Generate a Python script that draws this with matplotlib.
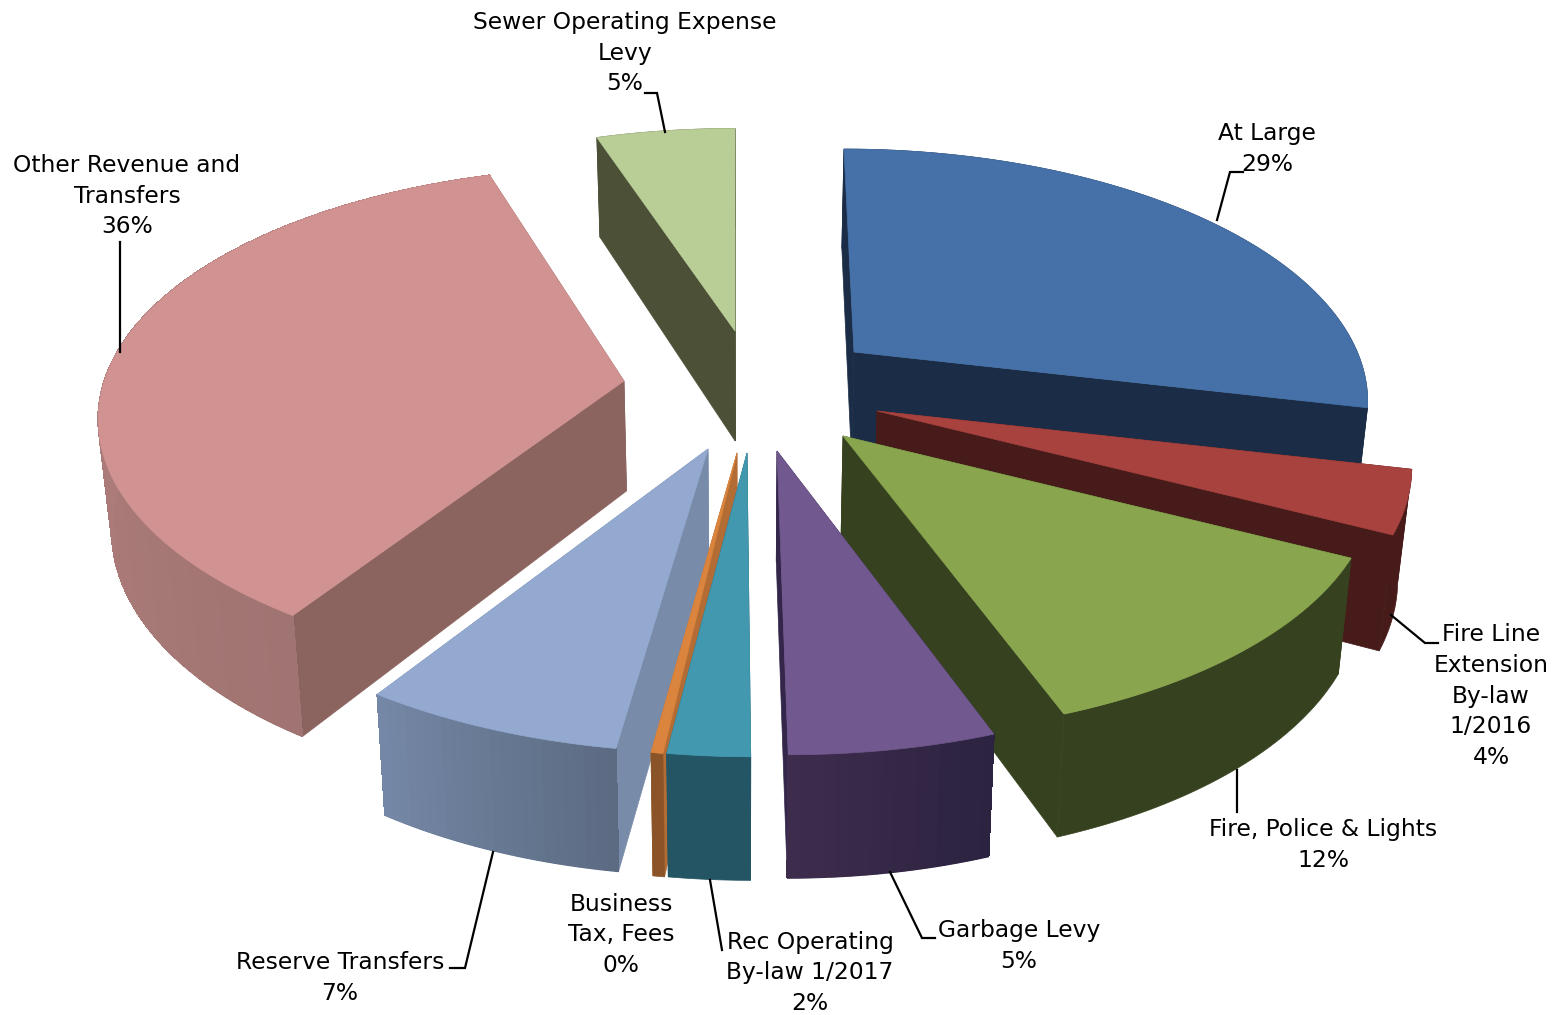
import numpy as np
import matplotlib
matplotlib.use("Agg")
import matplotlib.pyplot as plt
from matplotlib.patches import Polygon
from matplotlib.colors import to_rgb

# ---- data ----
categories = ["At Large", "Fire Line\nExtension\nBy-law\n1/2016", "Fire, Police & Lights", "Garbage Levy",
              "Rec Operating\nBy-law 1/2017", "Business\nTax, Fees", "Reserve Transfers",
              "Other Revenue and\nTransfers", "Sewer Operating Expense\nLevy"]
shares = [28.6, 3.9, 12.2, 5.3, 2.1, 0.3, 7.0, 35.4, 5.2]
percent_labels = ["29%", "4%", "12%", "5%", "2%", "0%", "7%", "36%", "5%"]

# ---- style ----
top_colors = ["#4571A8", "#A8423F", "#89A54E", "#71588F", "#4198AF", "#DB843D", "#93A9CF", "#D19392", "#B9CD96"]
radial_colors = ["#1B2D46", "#461B19", "#36421F", "#33264A", "#235564", "#B26C34", "#788CAA", "#8C645F", "#4B5037"]
wall_start = ["#1B2D46", "#461B19", "#36421F", "#2B2340", "#235564", "#8A5428", "#5C6B82", "#A07472", "#4B5037"]
wall_end = ["#1B2D46", "#461B19", "#36421F", "#3E2C4C", "#235564", "#8A5428", "#7487A6", "#BE8785", "#4B5037"]

# ---- layout: pie centre, slice offsets on screen, projection per slice ----
cx, cy = 742, 445
explode_dx = [112, 135, 101, 35, 5, -5, -34, -118, -7]
explode_dy = [-93, -34, -9, 6, 8, 8, 4, -64, -114]
skew = [-12, -6, -6, -9, -3, -8, -3, 0, 0]
radius = [0.983, 1.02, 1.02, 1.0, 1.0, 1.0, 1.0, 1.015, 1.0]
persp = [0.18, 0.2, 0.17, 0.2, 0.2, 0.2, 0.2, 0.15, 0.2]
trim_end_deg = [0, 0, 1.0, 0, 0, 0, 1.0, -1.5, 0]
S, Se = 512, 243
height0, height_q, taper = 110, 0.11, 0.021

label_pos = [(1267, 149), (1491, 696), (1323, 845), (1019, 946), (810, 973), (621, 935), (340, 978), (127, 196), (625, 53)]
leaders = [[(1217, 220), (1230, 172), (1243, 172)],
           [(1391, 615), (1425, 643), (1438, 643)],
           [(1237, 770), (1237, 812)],
           [(890, 872), (922, 938), (935, 938)],
           [(710, 880), (722, 950)],
           None,
           [(493, 852), (465, 968), (450, 968)],
           [(120, 352), (120, 242)],
           [(665, 132), (657, 93), (645, 93)]]

fig = plt.figure(figsize=(15.56, 10.15), dpi=100)
ax = fig.add_axes([0, 0, 1, 1])
ax.set_xlim(0, 1556)
ax.set_ylim(1015, 0)
ax.axis("off")


def proj(theta, i, ax0, ay0):
    x = radius[i] * np.sin(theta)
    y = radius[i] * np.cos(theta)
    w = 1 + persp[i] * y
    sx = ax0 + (S * x + skew[i] * y) / w
    sy = ay0 - Se * y / w
    return sx, sy, y


def lower(sx, sy, y):
    h = height0 / (1 + height_q * y)
    return sx - taper * (sx - cx), sy + h


def draw_wall(k0, k1, xs, ys, bx, by, c0, c1):
    """Outer wall between samples k0..k1: smooth base polygon plus gradient bands."""
    if k1 <= k0:
        return
    n = len(xs) - 1
    X, Y, BX, BY = xs[k0:k1 + 1], ys[k0:k1 + 1], bx[k0:k1 + 1], by[k0:k1 + 1]
    t0, t1 = k0 / n, k1 / n
    base_col = c0 * (1 - (t0 + t1) / 2) + c1 * (t0 + t1) / 2
    base = np.column_stack([np.r_[X, BX[::-1]], np.r_[Y, BY[::-1]]])
    ax.add_patch(Polygon(base, closed=True, facecolor=base_col, edgecolor=base_col, lw=0.5))
    if np.allclose(c0, c1):
        return
    for k in range(k0, k1):
        t = k / max(n - 1, 1)
        col = c0 * (1 - t) + c1 * t
        q = [(xs[k], ys[k]), (xs[k + 1], ys[k + 1]), (bx[k + 1], by[k + 1] - 1), (bx[k], by[k] - 1)]
        ax.add_patch(Polygon(q, closed=True, facecolor=col, edgecolor=col, lw=0.6, antialiased=False))


total = sum(shares)
bounds = np.cumsum([0] + shares) / total * 2 * np.pi
order = [8, 7, 0, 1, 2, 6, 5, 4, 3]

for i in order:
    a0, a1 = bounds[i], bounds[i + 1] - np.radians(trim_end_deg[i])
    ax0, ay0 = cx + explode_dx[i], cy + explode_dy[i]
    th = np.linspace(a0, a1, max(int((a1 - a0) * 60), 3))
    xs, ys, yy = proj(th, i, ax0, ay0)
    bx, by = lower(xs, ys, yy)
    abx, aby = lower(ax0, ay0, 0.0)
    c0, c1 = np.array(to_rgb(wall_start[i])), np.array(to_rgb(wall_end[i]))

    near = yy <= 0
    n = len(th) - 1
    # far part of the outer wall first
    far_runs = []
    near_runs = []
    start = 0
    for k in range(1, n + 2):
        if k == n + 1 or near[k] != near[start]:
            (near_runs if near[start] else far_runs).append((max(start - 1, 0), k - 1))
            start = k
    for r in far_runs:
        draw_wall(r[0], r[1], xs, ys, bx, by, c0, c1)

    # radial walls, far one first
    for e in sorted((0, -1), key=lambda e: -yy[e]):
        q = [(ax0, ay0), (xs[e], ys[e]), (bx[e], by[e]), (abx, aby)]
        col = to_rgb(radial_colors[i])
        ax.add_patch(Polygon(q, closed=True, facecolor=col, edgecolor=col, lw=0.5))

    # near part of the outer wall hides the radial walls behind it
    for r in near_runs:
        draw_wall(r[0], r[1], xs, ys, bx, by, c0, c1)

    ax.add_patch(Polygon(np.column_stack([np.r_[ax0, xs], np.r_[ay0, ys]]), closed=True,
                         facecolor=top_colors[i], edgecolor=top_colors[i], lw=0.5))

for cat, pct, pos, ld in zip(categories, percent_labels, label_pos, leaders):
    ax.text(pos[0], pos[1], cat + "\n" + pct, ha="center", va="center", fontsize=16.8,
            family="DejaVu Sans", linespacing=1.42, color="black")
    if ld:
        ax.plot(*zip(*ld), color="black", lw=1.6, solid_joinstyle="miter")

fig.savefig("out.png", dpi=100, facecolor="white")
